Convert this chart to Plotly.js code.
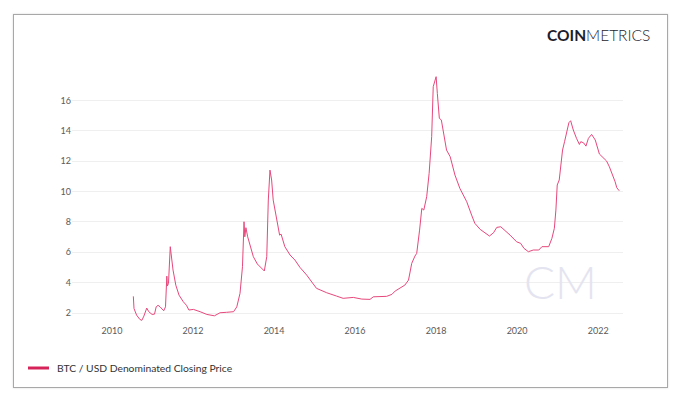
<!DOCTYPE html>
<html>
<head>
<meta charset="utf-8">
<script src="https://cdn.plot.ly/plotly-3.0.1.min.js"></script>
<style>
  html, body { margin:0; padding:0; background:#fff; width:680px; height:402px; overflow:hidden; }
  #chart { position:absolute; left:0; top:0; width:680px; height:402px; }
  #frame { position:absolute; left:13px; top:14px; width:653px; height:372px; border:1px solid #a8a8a8; box-shadow:0 0 2px rgba(0,0,0,0.15); pointer-events:none; }
</style>
</head>
<body>
<div id="chart"></div>
<div id="frame"></div>
<script>
const dates = [
"2010-07-12","2010-07-14","2010-07-18","2010-08-10","2010-09-09","2010-09-27","2010-10-15","2010-11-10","2010-11-28","2010-12-28",
"2011-01-19","2011-02-03","2011-02-20","2011-03-10","2011-03-25","2011-04-12","2011-04-28","2011-05-01","2011-05-10","2011-05-15",
"2011-05-25","2011-06-10","2011-06-20","2011-07-05","2011-07-30","2011-08-28","2011-10-05","2011-11-03","2011-11-25","2012-01-05",
"2012-03-05","2012-05-05","2012-07-12","2012-09-01","2012-10-30","2013-01-01","2013-01-30","2013-02-28","2013-03-22","2013-04-05",
"2013-04-12","2013-04-22","2013-05-08","2013-05-30","2013-06-28","2013-08-03","2013-09-12","2013-10-05","2013-10-27","2013-11-10",
"2013-11-25","2013-12-10","2013-12-24","2014-01-26","2014-02-03","2014-02-20","2014-03-05","2014-04-08","2014-05-25","2014-07-08",
"2014-08-22","2014-10-22","2015-01-18","2015-04-20","2015-07-18","2015-09-16","2015-12-16","2016-03-02","2016-05-15","2016-06-14",
"2016-10-12","2016-11-28","2016-12-28","2017-02-10","2017-03-25","2017-04-27","2017-05-26","2017-06-24","2017-07-10","2017-08-05",
"2017-08-25","2017-09-12","2017-10-08","2017-10-30","2017-11-22","2017-12-06","2017-12-16","2017-12-24","2018-01-01","2018-01-12",
"2018-01-30","2018-02-17","2018-03-07","2018-04-05","2018-05-08","2018-06-20","2018-08-03","2018-10-04","2018-11-17","2018-12-16",
"2019-02-02","2019-03-18","2019-04-27","2019-06-03","2019-07-02","2019-08-07","2019-09-13","2019-10-30","2019-12-28","2020-02-02",
"2020-03-03","2020-04-12","2020-05-26","2020-07-15","2020-08-12","2020-10-12","2020-11-10","2020-12-02","2020-12-16","2020-12-28",
"2021-01-15","2021-01-30","2021-02-14","2021-03-04","2021-03-26","2021-04-12","2021-04-28","2021-05-22","2021-06-20","2021-07-16",
"2021-07-28","2021-08-22","2021-09-13","2021-10-05","2021-11-03","2021-12-06","2022-01-12","2022-02-18","2022-03-18","2022-04-12",
"2022-05-18","2022-06-03","2022-06-18","2022-07-10"
];
const closingPrice = [
3.10,2.60,2.30,1.87,1.58,1.52,1.80,2.33,2.09,1.91,
1.93,2.41,2.51,2.41,2.28,2.15,2.41,3.40,4.43,3.78,
3.95,6.37,5.82,4.83,3.84,3.18,2.75,2.51,2.20,2.24,
2.09,1.91,1.82,2.02,2.05,2.09,2.41,3.30,5.05,8.01,
7.02,7.62,7.02,6.48,5.71,5.23,4.94,4.77,5.71,9.44,
11.41,10.76,9.44,8.12,7.80,7.13,7.20,6.37,5.82,5.49,
5.01,4.50,3.63,3.34,3.12,2.97,3.03,2.92,2.90,3.07,
3.10,3.23,3.45,3.63,3.84,4.17,5.27,5.75,5.93,7.46,
8.89,8.78,9.66,11.20,13.61,16.90,17.12,17.35,17.56,16.46,
14.82,14.71,13.94,12.73,12.29,11.08,10.21,9.33,8.45,7.91,
7.51,7.25,7.07,7.29,7.64,7.68,7.46,7.13,6.69,6.59,
6.26,6.04,6.15,6.15,6.37,6.37,6.92,7.58,8.78,10.43,
10.76,11.86,12.73,13.28,13.94,14.53,14.66,14.05,13.50,13.10,
13.28,13.21,12.99,13.50,13.76,13.39,12.47,12.18,12.01,11.63,
10.97,10.64,10.25,10.05
];
const yTicks = [2,4,6,8,10,12,14,16];
const xTicks = ["2010-01-01","2012-01-01","2014-01-01","2016-01-01","2018-01-01","2020-01-01","2022-01-01"];
const xTickText = ["2010","2012","2014","2016","2018","2020","2022"];
const seriesName = "BTC / USD Denominated Closing Price";

const trace = {
  x: dates, y: closingPrice, type: "scatter", mode: "lines",
  name: seriesName,
  line: { color: "#e6487c", width: 1 },
  showlegend: false, hoverinfo: "skip"
};

const layout = {
  width: 680, height: 402,
  margin: { l: 72, r: 57, t: 70, b: 78 },
  paper_bgcolor: "#ffffff", plot_bgcolor: "#ffffff",
  font: { family: "Lato, 'Open Sans', sans-serif", color: "#555" },
  xaxis: {
    type: "date", range: ["2009-01-05", "2022-08-13"],
    tickvals: xTicks, ticktext: xTickText,
    showgrid: false, zeroline: false, showline: false, ticks: "",
    tickfont: { size: 9, color: "#5a5a5a" }
  },
  yaxis: {
    range: [1.28, 18.0], tickvals: yTicks,
    showgrid: true, gridcolor: "#efefef", gridwidth: 1,
    zeroline: false, showline: false, ticks: "",
    tickfont: { size: 9, color: "#5a5a5a" }
  },
  shapes: [
    { type: "line", xref: "paper", yref: "paper",
      x0: (28-72)/551, x1: (49-72)/551, y0: (324-368)/254, y1: (324-368)/254,
      line: { color: "#d6245a", width: 3 } }
  ],
  annotations: [
    { xref: "paper", yref: "paper", x: (55-72)/551, y: (324-368)/254,
      xanchor: "left", yanchor: "middle", showarrow: false,
      text: seriesName, font: { size: 10.3, color: "#333", family: "Lato, sans-serif" } },
    { xref: "paper", yref: "paper", x: (652-72)/551, y: (324-35)/254,
      xanchor: "right", yanchor: "middle", showarrow: false,
      text: "<b>COIN</b>METRICS",
      font: { size: 15.5, color: "#1d1d2b", family: "Lato, sans-serif", weight: 300 } },
    { xref: "paper", yref: "paper", x: (560-72)/551, y: (324-281)/254,
      xanchor: "center", yanchor: "middle", showarrow: false,
      text: "CM",
      font: { size: 46, color: "#e4e4f0", family: "Lato, sans-serif", weight: 300 } }
  ]
};

Plotly.newPlot("chart", [trace], layout, { staticPlot: true, displayModeBar: false });
</script>
</body>
</html>
